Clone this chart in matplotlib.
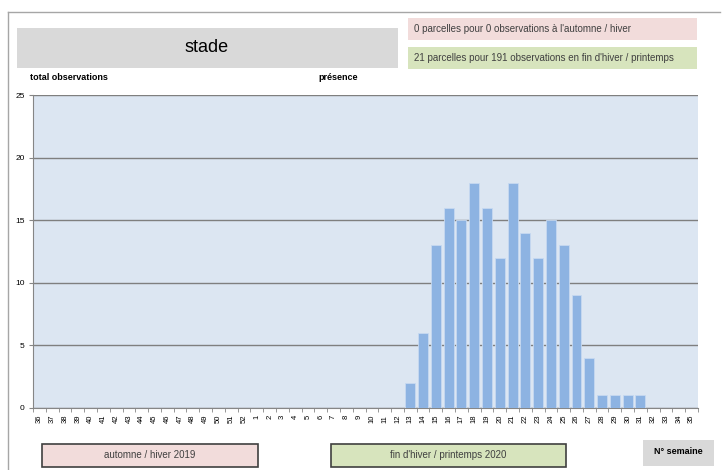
import matplotlib.pyplot as plt
from matplotlib.patches import Rectangle
from matplotlib.lines import Line2D

plt.rcParams['font.family'] = ['Liberation Sans Narrow', 'Liberation Sans', 'DejaVu Sans']

# semaines de la campagne : 36 -> 52 puis 1 -> 35
weeks = [str(w) for w in range(36, 53)] + [str(w) for w in range(1, 36)]
obs_weeks = ['13', '14', '15', '16', '17', '18', '19', '20', '21', '22',
             '23', '24', '25', '26', '27', '28', '29', '30', '31']
obs_counts = [2, 6, 13, 16, 15, 18, 16, 12, 18, 14,
              12, 15, 13, 9, 4, 1, 1, 1, 1]

counts = [0] * len(weeks)
for w, c in zip(obs_weeks, obs_counts):
    counts[weeks.index(w)] = c

W, H = 722, 470
fig = plt.figure(figsize=(W / 100, H / 100), dpi=100)


def px_box(x0, y0, x1, y1, fc, ec='none', lw=0):
    fig.patches.append(Rectangle((x0 / W, 1 - y1 / H), (x1 - x0) / W, (y1 - y0) / H,
                                 transform=fig.transFigure, facecolor=fc,
                                 edgecolor=ec, linewidth=lw))


def px_text(x, y, s, **kw):
    fig.text(x / W, 1 - y / H, s, **kw)


# cadre extérieur
fig.lines.append(Line2D([8 / W, 720 / W], [1 - 12 / H, 1 - 12 / H],
                        transform=fig.transFigure, color='#a6a6a6', lw=1))
fig.lines.append(Line2D([8 / W, 8 / W], [1 - 12 / H, 0],
                        transform=fig.transFigure, color='#a6a6a6', lw=1))

# en-têtes
px_box(17, 28, 398, 68, '#d9d9d9')
px_text(207, 47, 'stade', ha='center', va='center', fontsize=13)
px_box(408, 18, 697, 40, '#f2dcdb')
px_text(414, 29, "0 parcelles pour 0 observations à l'automne / hiver",
        ha='left', va='center', fontsize=7, color='#404040')
px_box(408, 47, 697, 69, '#d7e4bd')
px_text(414, 58, "21 parcelles pour 191 observations en fin d'hiver / printemps",
        ha='left', va='center', fontsize=7, color='#404040')
px_text(30, 78, 'total observations', ha='left', va='center', fontsize=6.5, weight='bold')
px_text(318, 78, 'présence', ha='left', va='center', fontsize=6.5, weight='bold')

# pieds
px_box(42, 444, 258, 467, '#f2dcdb', ec='#404040', lw=1.2)
px_text(150, 455, 'automne / hiver 2019', ha='center', va='center', fontsize=7, color='#404040')
px_box(331, 444, 566, 467, '#d7e4bd', ec='#404040', lw=1.2)
px_text(448, 455, "fin d'hiver / printemps 2020", ha='center', va='center', fontsize=7, color='#404040')
px_box(643, 440, 714, 466, '#d9d9d9')
px_text(678, 452, 'N° semaine', ha='center', va='center', fontsize=6.5, weight='bold')

ax = fig.add_axes([33 / W, 1 - 408 / H, (698 - 33) / W, (408 - 95) / H])
ax.set_facecolor('#dce6f2')
x = range(len(weeks))
ax.bar(x, counts, width=0.78, color='#8db3e2', edgecolor='#c6d9f1', linewidth=0.6, zorder=3)

ax.set_xlim(-0.5, len(weeks) - 0.5)
ax.set_ylim(0, 25)
ax.set_yticks([0, 5, 10, 15, 20, 25])
ax.yaxis.grid(True, color='#7f7f7f', lw=1, zorder=1)
ax.set_xticks(list(x))
ax.set_xticklabels(weeks, rotation=90, fontsize=5.5)
ax.set_xticks([i - 0.5 for i in range(len(weeks) + 1)], minor=True)
ax.tick_params(axis='x', which='major', length=0, pad=5)
ax.tick_params(axis='x', which='minor', length=3, color='#868686')
ax.tick_params(axis='y', length=3, color='#868686', labelsize=6, pad=3)
for side in ['top', 'right']:
    ax.spines[side].set_visible(False)
for side in ['left', 'bottom']:
    ax.spines[side].set_color('#868686')

fig.savefig('out.png', dpi=100)
